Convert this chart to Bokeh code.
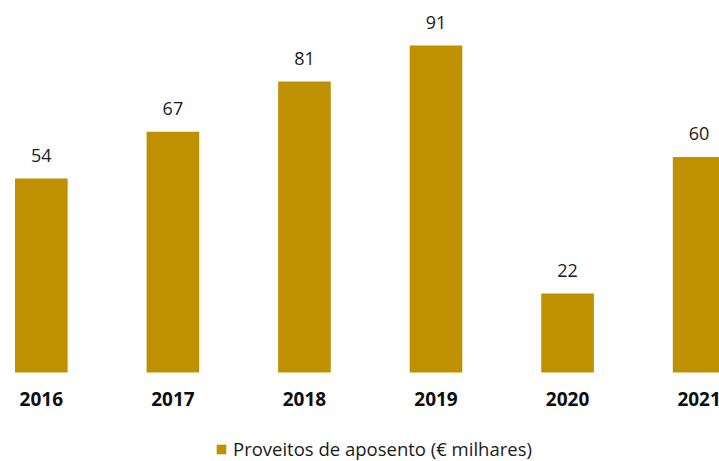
from bokeh.plotting import figure
from bokeh.models import ColumnDataSource, Range1d, LabelSet, Legend, LegendItem
from bokeh.core.properties import value
from bokeh.embed import file_html
from bokeh.resources import INLINE

years = ["2016", "2017", "2018", "2019", "2020", "2021"]
values = [54, 67, 81, 91, 22, 60]
series_name = "Proveitos de aposento (€ milhares)"

GOLD = "#BF9000"
idx = list(range(len(years)))
src = ColumnDataSource(data=dict(x=idx, top=values, label=[str(v) for v in values],
                                 year=years, zero=[0] * len(years)))

p = figure(width=719, height=461, output_backend="svg", toolbar_location=None,
           x_range=Range1d(-0.3105, 5.155), y_range=Range1d(-24.77, 103.53),
           min_border=0, x_axis_location=None, y_axis_location=None)
p.outline_line_color = None
p.grid.visible = False
p.background_fill_color = "white"
p.border_fill_color = "white"

r = p.vbar(x="x", top="top", width=0.4, bottom=0, source=src, fill_color=GOLD, line_color=None)

labels = LabelSet(x="x", y="top", text="label", source=src, text_align="center",
                  text_baseline="middle", y_offset=23, text_font=value("Open Sans"),
                  text_font_size="18px", text_color="#1a1a1a")
p.add_layout(labels)

year_labels = LabelSet(x="x", y="zero", text="year", source=src, text_align="center",
                       text_baseline="middle", y_offset=-27, text_font=value("Open Sans"),
                       text_font_style="bold", text_font_size="19px", text_color="#0d0d0d")
p.add_layout(year_labels)

legend = Legend(items=[LegendItem(label=series_name, renderers=[r])],
                location=(215, 0), orientation="horizontal",
                glyph_width=12, glyph_height=12, label_height=12, label_standoff=6,
                label_text_font="Open Sans", label_text_font_size="18.5px",
                label_text_color="#1a1a1a", padding=0, margin=0,
                border_line_color=None, background_fill_alpha=0)
p.add_layout(legend, "center")

open("out.html", "w").write(file_html(p, INLINE))
